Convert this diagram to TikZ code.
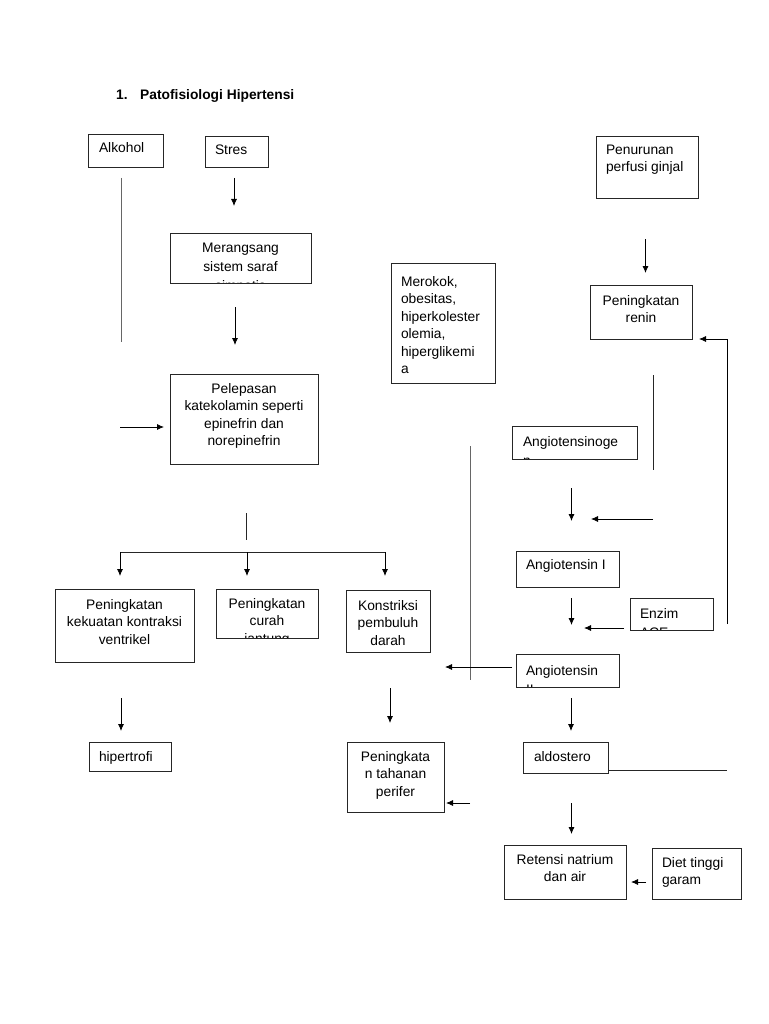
\documentclass[tikz,border=0pt]{standalone}
\usepackage{fontspec}
\setmainfont{Liberation Sans}
\usetikzlibrary{arrows.meta}
\newcommand\mybox[7]{\node[bx, minimum width={(#4-#2)*1pt}, minimum height={(#5-#3)*1pt}, path picture={\node[txt,#6]{#7};}] (#1) at ({(#2+#4)/2},{(#3+#5)/2}) {};}
\begin{document}
\begin{tikzpicture}[x=1pt,y=-1pt,
  font=\fontsize{13.8}{17.5}\selectfont,
  bx/.style={draw=black!85, line width=0.8pt, rectangle, inner sep=0pt, outer sep=0pt},
  txt/.style={inner sep=0pt, outer sep=0pt, minimum width=0pt, minimum height=0pt, draw=none, fill=none, text=black},
  ctop/.style={anchor=north, align=center, at={([yshift=-#1]path picture bounding box.north)}},
  ltop/.style 2 args={anchor=north west, align=left, at={([xshift=#1,yshift=-#2]path picture bounding box.north west)}},
  wide/.style={font=\fontsize{13.8}{19}\selectfont},
  ar/.style={draw=black, line width=0.8pt, -{Latex[length=7pt,width=6pt]}},
  ln/.style={draw=black!85, line width=0.8pt},
  gln/.style={draw=black!60, line width=0.9pt},
  ttl/.style={font=\fontsize{13.8}{17}\selectfont\bfseries, inner sep=0pt, anchor=base west}]
\fill[white] (0,0) rectangle (768,1024);
\useasboundingbox (0,0) rectangle (768,1024);

% title
\node[ttl] (num) at (116,100) {1.};
\node[ttl] (title) at (140,100) {Patofisiologi Hipertensi};

% boxes
\mybox{alk}{88}{134}{163}{167}{ltop={11pt}{9pt}}{Alkohol}
\mybox{stres}{205}{136}{268}{167}{ltop={10pt}{9pt}}{Stres}
\mybox{mer}{170}{233}{311}{283}{ctop=10pt,wide}{Merangsang\\sistem saraf\\simpatis}
\mybox{pel}{170}{374}{318}{464}{ctop=9pt}{Pelepasan\\katekolamin seperti\\epinefrin dan\\norepinefrin}
\mybox{rok}{391}{263}{495}{383}{ltop={10pt}{13pt}}{Merokok,\\obesitas,\\hiperkolester\\olemia,\\hiperglikemi\\a}
\mybox{pen}{596}{136}{698}{198}{ltop={10pt}{9pt}}{Penurunan\\perfusi ginjal}
\mybox{ren}{590}{285}{692}{339}{ctop=10pt}{Peningkatan\\renin}
\mybox{agn}{512}{426}{637}{459}{ltop={11pt}{10pt},wide}{Angiotensinoge\\n}
\mybox{ag1}{516}{551}{619}{587}{ltop={10pt}{8pt}}{Angiotensin I}
\mybox{ace}{630}{598}{713}{630}{ltop={10pt}{10pt},wide}{Enzim\\ACE}
\mybox{ag2}{516}{654}{619}{687}{ltop={10pt}{11pt},wide}{Angiotensin\\II}
\mybox{kon}{55}{589}{194}{662}{ctop=10pt}{Peningkatan\\kekuatan kontraksi\\ventrikel}
\mybox{cur}{216}{589}{318}{638}{ctop=9pt}{Peningkatan\\curah\\jantung}
\mybox{kst}{346}{590}{430}{652}{ctop=10pt}{Konstriksi\\pembuluh\\darah}
\mybox{hip}{89}{742}{171}{771}{ltop={10pt}{9pt}}{hipertrofi}
\mybox{tah}{347}{742}{444}{812}{ctop=9pt}{Peningkata\\n tahanan\\perifer}
\mybox{ald}{523}{742}{608}{773}{ltop={11pt}{9pt}}{aldostero}
\mybox{ret}{504}{845}{626}{899}{ctop=9pt}{Retensi natrium\\dan air}
\mybox{diet}{652}{848}{741}{899}{ltop={10pt}{9pt}}{Diet tinggi\\garam}

% free connector ends
\coordinate (a1) at (121,178);   \coordinate (a2) at (121,342);
\coordinate (s1) at (234,178);   \coordinate (s2) at (234,206);
\coordinate (m1) at (235,307);   \coordinate (m2) at (235,345);
\coordinate (p1) at (120,427);   \coordinate (p2) at (164,427);
\coordinate (q1) at (246,513);   \coordinate (q2) at (246,540);
\coordinate (bl) at (120,552);   \coordinate (bm) at (247,552);   \coordinate (br) at (385,552);
\coordinate (bl2) at (120,576);  \coordinate (bm2) at (247,576);  \coordinate (br2) at (385,576);
\coordinate (h1) at (121,698);   \coordinate (h2) at (121,731);
\coordinate (k1) at (390,688);   \coordinate (k2) at (390,723);
\coordinate (t1) at (470,803);   \coordinate (t2) at (446,803);
\coordinate (v1) at (470.5,446); \coordinate (v2) at (470.5,680);
\coordinate (g1) at (512,667);   \coordinate (g2) at (445,667);
\coordinate (n1) at (645.5,239); \coordinate (n2) at (645.5,273);
\coordinate (f1) at (727,624);   \coordinate (f2) at (727,339);   \coordinate (f3) at (699,339);
\coordinate (r1) at (653,375);   \coordinate (r2) at (653,470);
\coordinate (o1) at (571.5,488); \coordinate (o2) at (571.5,521);
\coordinate (o3) at (653,519);   \coordinate (o4) at (591,519);
\coordinate (i1) at (571.5,598); \coordinate (i2) at (571.5,625);
\coordinate (e1) at (624,628);   \coordinate (e2) at (584,628);
\coordinate (d1) at (571,698);   \coordinate (d2) at (571,731);
\coordinate (l1) at (608,770);   \coordinate (l2) at (727,770);
\coordinate (x1) at (571.5,803); \coordinate (x2) at (571.5,834);
\coordinate (y1) at (646,882);   \coordinate (y2) at (631,882);

% connectors
\draw[gln] (a1) -- (a2);
\draw[ar] (s1) -- (s2);
\draw[ar] (m1) -- (m2);
\draw[ar] (p1) -- (p2);
\draw[ln] (q1) -- (q2);
\draw[ln] (bl) -- (br);
\draw[ar] (bl) -- (bl2);
\draw[ar] (bm) -- (bm2);
\draw[ar] (br) -- (br2);
\draw[ar] (h1) -- (h2);
\draw[ar] (k1) -- (k2);
\draw[ar] (t1) -- (t2);
\draw[gln] (v1) -- (v2);
\draw[ar] (g1) -- (g2);
\draw[ar] (n1) -- (n2);
\draw[ar] (f1) -- (f2) -- (f3);
\draw[ln] (r1) -- (r2);
\draw[ar] (o1) -- (o2);
\draw[ar] (o3) -- (o4);
\draw[ar] (i1) -- (i2);
\draw[ar] (e1) -- (e2);
\draw[ar] (d1) -- (d2);
\draw[ln] (l1) -- (l2);
\draw[ar] (x1) -- (x2);
\draw[ar] (y1) -- (y2);
\end{tikzpicture}
\end{document}
